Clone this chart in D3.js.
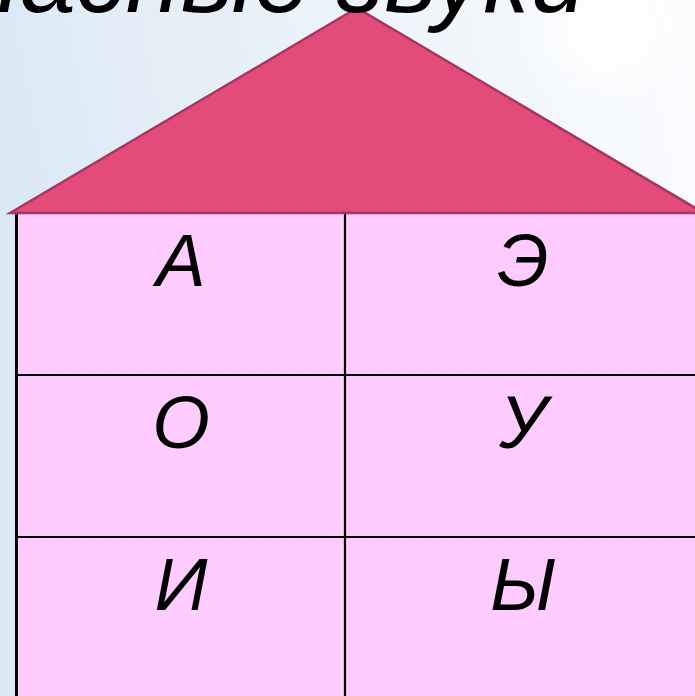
<!DOCTYPE html>
<html><head><meta charset="utf-8">
<script src="https://cdn.jsdelivr.net/npm/d3@7"></script>
<style>html,body{margin:0;padding:0;overflow:hidden;background:#fff}</style>
</head><body>
<script>
const title = "Гласные звуки";
const letters = ["А","Э","О","У","И","Ы"];
const rows = [0,1,2];
const cols = [0,1];

const W = 695, H = 696;
const svg = d3.select("body").append("svg").attr("width", W).attr("height", H);
const defs = svg.append("defs");
const g = defs.append("linearGradient").attr("id","bg").attr("x1","0").attr("y1","0.2").attr("x2","1").attr("y2","0");
g.append("stop").attr("offset","0").attr("stop-color","#dbe9f5");
g.append("stop").attr("offset","0.55").attr("stop-color","#eef4fa");
g.append("stop").attr("offset","1").attr("stop-color","#fbfcfe");
const rg = defs.append("radialGradient").attr("id","glow");
rg.append("stop").attr("offset","0").attr("stop-color","#ffffff").attr("stop-opacity",0.9);
rg.append("stop").attr("offset","1").attr("stop-color","#ffffff").attr("stop-opacity",0);

svg.append("rect").attr("width",W).attr("height",H).attr("fill","url(#bg)");
svg.append("circle").attr("cx",600).attr("cy",30).attr("r",90).attr("fill","url(#glow)");

// piecewise column scale (column edges), row band scale
const x = d3.scaleLinear().domain([0,1,2]).range([17, 345, 703]);
const y = d3.scaleBand().domain(rows).range([213, 699]);

// roof
const roofX = d3.scaleLinear().domain([0,1]).range([10, 704]);
const roofY = d3.scaleLinear().domain([0,1]).range([213, 8]);
const roofPts = [[0,0],[0.5,1],[1,0]].map(d => [roofX(d[0]), roofY(d[1])]);

// body
svg.append("rect").attr("x", x(0)).attr("y", y.range()[0])
  .attr("width", x(2)-x(0)).attr("height", y.range()[1]-y.range()[0])
  .attr("fill","#ffccff");

// grid lines
svg.append("line").attr("x1", 16.5).attr("x2", 16.5).attr("y1", 213).attr("y2", H)
  .attr("stroke","#000").attr("stroke-width",3);
svg.append("line").attr("x1", x(1)).attr("x2", x(1)).attr("y1", 213).attr("y2", H)
  .attr("stroke","#000").attr("stroke-width",2.2);
svg.selectAll("line.h").data(rows.slice(1)).enter().append("line")
  .attr("x1", 16).attr("x2", W).attr("y1", d => y(d)).attr("y2", d => y(d))
  .attr("stroke","#000").attr("stroke-width",2.2);

svg.append("polygon").attr("points", roofPts.map(p=>p.join(",")).join(" "))
  .attr("fill","#e24b7a").attr("stroke","#a5375f").attr("stroke-width",2.5).attr("stroke-linejoin","miter");

// letters
const cells = letters.map((t,i) => ({t, r: Math.floor(i/2), c: i%2}));
svg.selectAll("text.l").data(cells).enter().append("text")
  .attr("x", d => (x(d.c) + x(d.c+1)) / 2 - (d.c===0 ? 0 : 1))
  .attr("y", d => y(d.r) + 73)
  .attr("text-anchor","middle")
  .attr("font-family","Liberation Sans, Arial, sans-serif")
  .attr("font-style","italic")
  .attr("font-size", 74)
  .attr("fill","#000")
  .text(d => d.t);

svg.append("text").attr("x", 586).attr("y", 12).attr("text-anchor","end")
  .attr("font-family","Liberation Sans, Arial, sans-serif")
  .attr("font-style","italic").attr("font-size",100).attr("fill","#000")
  .text(title);
</script>
</body></html>
